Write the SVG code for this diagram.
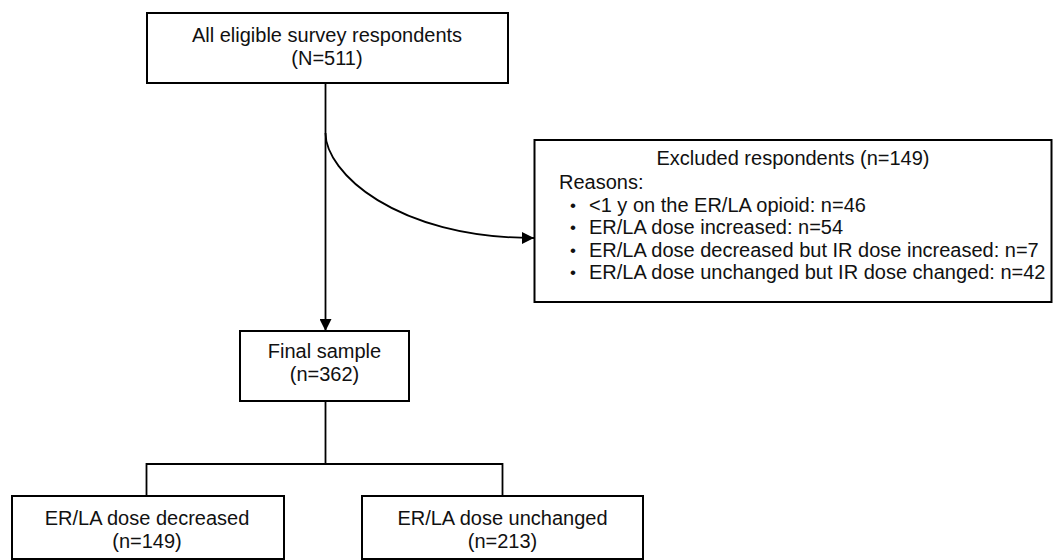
<svg xmlns="http://www.w3.org/2000/svg" width="1055" height="560" viewBox="0 0 1055 560">
<style>
.box{fill:#fff;stroke:#000;stroke-width:2}
.ln{fill:none;stroke:#000;stroke-width:1.8}
text{font-family:"Liberation Sans",Arial,sans-serif;font-size:20px;fill:#111}
.c{text-anchor:middle}
.b{font-size:17px}
</style>
<defs>
<marker id="ah" markerUnits="userSpaceOnUse" markerWidth="12" markerHeight="12" viewBox="0 0 12 12" refX="12" refY="6" orient="auto">
<path d="M0,0 L12,6 L0,12 Z" fill="#000"/>
</marker>
</defs>
<rect width="1055" height="560" fill="#fff"/>
<g id="connectors">
<path class="ln" d="M325.5,83 V331" marker-end="url(#ah)"/>
<path class="ln" d="M325.5,133 C325.5,172 395,238 534,238" marker-end="url(#ah)"/>
<path class="ln" d="M325.5,401 V464 M146.5,464 H502.5 M146.5,463.1 V496 M502.5,463.1 V496"/>
</g>
<g id="all-eligible">
<rect class="box" x="147" y="13" width="361" height="70"/>
<text class="c" x="327" y="41.5">All eligible survey respondents</text>
<text class="c" x="327" y="65">(N=511)</text>
</g>
<g id="excluded">
<rect class="box" x="534.5" y="140" width="517" height="162"/>
<text class="c" x="793" y="165">Excluded respondents (n=149)</text>
<text x="559" y="189">Reasons:</text>
<text class="b" x="570" y="210.5">•</text><text x="589" y="211.5">&lt;1 y on the ER/LA opioid: n=46</text>
<text class="b" x="570" y="233">•</text><text x="589" y="234">ER/LA dose increased: n=54</text>
<text class="b" x="570" y="255.5">•</text><text x="589" y="256.5">ER/LA dose decreased but IR dose increased: n=7</text>
<text class="b" x="570" y="278">•</text><text x="589" y="279">ER/LA dose unchanged but IR dose changed: n=42</text>
</g>
<g id="final-sample">
<rect class="box" x="240" y="331" width="169" height="70"/>
<text class="c" x="324.5" y="358">Final sample</text>
<text class="c" x="324.5" y="381">(n=362)</text>
</g>
<g id="decreased">
<rect class="box" x="12" y="496" width="272" height="63"/>
<text class="c" x="147" y="525">ER/LA dose decreased</text>
<text class="c" x="147" y="548">(n=149)</text>
</g>
<g id="unchanged">
<rect class="box" x="362" y="496" width="281" height="63"/>
<text class="c" x="502.5" y="525">ER/LA dose unchanged</text>
<text class="c" x="502.5" y="548">(n=213)</text>
</g>
</svg>
